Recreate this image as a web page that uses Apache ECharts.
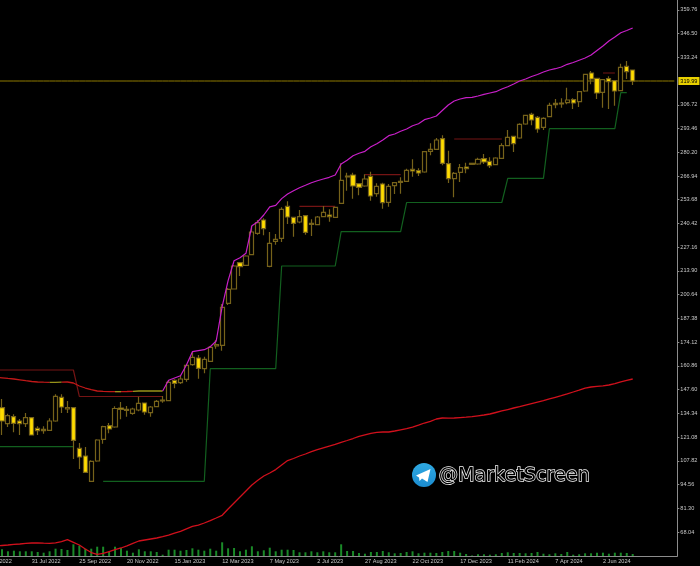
<!DOCTYPE html>
<html>
<head>
<meta charset="utf-8">
<style>html,body{margin:0;background:#000}#chart{width:700px;height:566px}</style>
<script src="https://cdn.jsdelivr.net/npm/echarts@6/dist/echarts.min.js"></script>
</head>
<body>
<div id="chart"></div>
<script>
// weekly bars: open, close, low, high
const candles = [
[137.50,130.07,122.25,142.36],[128.56,133.03,126.72,134.15],[132.47,128.78,123.76,133.81],[130.07,128.56,122.25,131.19],
[128.56,131.91,126.72,134.54],[131.91,122.25,122.25,131.91],[125.99,124.65,122.25,127.11],[124.65,125.43,122.98,127.11],
[124.87,130.07,124.48,131.58],[130.07,143.87,129.68,144.98],[143.31,137.89,134.54,144.98],[136.77,137.50,134.54,141.24],
[137.50,119.29,108.84,137.50],[114.82,109.96,103.26,117.78],[110.52,101.41,101.41,115.55],[96.39,107.56,96.16,108.12],
[107.73,119.46,107.33,119.85],[119.85,126.89,117.39,127.44],[127.44,125.60,123.20,128.95],[126.72,137.05,126.33,138.28],
[137.33,136.60,131.02,140.68],[136.05,136.60,132.47,138.45],[134.37,136.77,133.59,137.50],[136.21,139.96,135.49,143.64],
[140.12,135.10,133.59,140.12],[134.71,137.89,132.47,138.45],[138.06,141.07,137.72,141.80],[141.24,141.80,140.29,144.03],
[141.41,151.69,141.07,152.97],[152.80,151.13,148.34,153.36],[151.46,153.53,150.74,155.60],[153.36,161.18,152.02,161.91],
[161.52,165.65,160.96,168.78],[165.26,159.51,153.70,166.94],[159.28,164.54,156.71,165.99],[163.42,171.24,163.03,171.96],
[171.96,172.69,170.46,175.32],[172.36,193.58,169.34,195.43],[195.82,203.64,194.87,204.36],[203.80,216.65,203.64,217.21],
[218.50,216.26,211.07,218.50],[217.04,222.24,216.65,222.63],[222.97,235.64,222.63,239.00],[234.92,240.84,234.14,242.35],
[242.35,237.49,233.80,243.30],[216.48,229.33,215.93,235.64],[230.45,231.57,228.55,234.53],[232.13,248.33,230.06,249.44],
[250.00,244.02,240.11,252.79],[243.86,240.50,233.02,243.86],[241.23,244.19,240.50,247.93],[244.75,235.48,234.14,244.75],
[239.95,240.50,233.41,242.74],[239.72,244.02,239.39,244.58],[244.19,246.65,243.86,250.17],[245.14,244.19,241.40,248.33],
[243.86,249.44,243.47,249.78],[251.68,264.53,251.29,274.02],[266.93,266.37,258.71,268.77],[267.48,261.34,254.25,268.77],
[262.63,260.61,256.14,262.63],[261.34,265.25,260.95,267.88],[266.76,255.75,253.13,269.33],[257.04,261.17,255.36,262.85],
[262.46,252.01,248.66,263.18],[252.24,261.17,249.78,262.46],[261.51,263.18,256.87,263.57],[263.41,263.97,257.04,266.20],
[263.97,270.11,263.57,271.00],[270.67,269.72,266.54,276.25],[269.89,268.60,266.93,271.23],[269.16,280.50,268.77,280.89],
[280.72,281.84,278.49,285.19],[281.84,287.04,281.45,288.15],[287.76,274.02,272.90,289.66],[273.80,265.42,263.02,281.06],
[265.42,268.43,255.03,269.16],[268.99,271.56,263.57,273.63],[271.95,271.00,268.43,274.36],[274.02,273.46,273.46,274.02],
[273.63,276.25,273.24,277.15],[276.59,274.75,273.63,279.22],[275.14,272.68,271.40,277.37],[273.24,276.98,272.90,277.37],
[276.81,283.85,276.42,285.19],[283.85,288.54,283.52,292.62],[289.10,284.97,280.33,289.10],[288.15,295.81,287.76,296.36],
[295.97,300.83,295.58,301.17],[301.39,298.21,295.25,302.29],[299.72,293.18,291.11,300.44],[294.13,299.16,292.62,299.72],
[300.05,306.42,299.72,307.87],[306.75,307.54,304.74,309.94],[307.15,307.70,305.08,310.33],[307.87,309.38,306.98,316.25],
[309.55,307.70,304.35,310.33],[308.43,314.02,305.47,314.41],[314.41,323.74,314.02,324.07],[324.46,321.11,318.15,325.58],
[321.50,313.29,309.94,321.84],[313.68,320.72,305.08,321.11],[321.28,319.60,304.35,322.62],[320.16,314.41,306.20,320.16],
[314.57,327.65,314.41,329.66],[328.20,325.19,321.11,331.17],[326.14,319.99,317.76,326.14]
];

// upper envelope, first value is one bar before the first candle
const upperBand = [
154.37,154.20,153.86,153.53,153.08,152.58,152.13,151.85,151.74,151.69,151.69,151.74,151.85,151.30,149.62,148.50,147.55,146.83,146.60,146.49,
146.44,146.49,146.55,146.66,146.83,146.83,146.83,146.83,146.83,152.80,154.09,155.37,161.35,168.78,169.34,169.90,171.57,174.76,193.92,208.44,
219.61,221.29,223.75,239.16,241.40,245.14,249.67,250.56,254.30,256.87,258.72,260.39,261.73,263.18,264.30,265.25,266.20,267.48,273.63,275.70,
278.27,279.61,280.72,283.29,284.97,287.04,289.44,290.39,291.90,293.18,295.02,296.14,298.38,299.33,300.44,303.51,306.59,308.82,309.94,310.67,
310.89,311.61,312.56,313.29,314.02,315.52,316.81,318.32,319.99,321.11,322.51,323.62,325.02,326.14,326.86,327.81,329.32,330.33,331.61,332.84,
334.52,337.03,339.54,342.34,344.57,346.97,348.20,349.60
];
// stretches of upperBand by colour, as [first bar, last bar]
const upperRedRuns = [[-1, 8], [10, 19], [20, 22]];
const upperOliveRuns = [[8, 10], [19, 20], [22, 27]];
const upperMagentaRuns = [[27, 106]];

// long moving average, same start as upperBand
const movingAvg = [
60.25,60.52,60.80,61.14,61.36,61.70,61.92,61.92,61.81,61.75,62.03,62.65,63.76,62.31,60.80,58.57,56.61,55.61,56.11,57.17,
58.18,59.13,60.36,61.70,63.04,63.60,64.15,64.71,65.44,66.28,67.39,68.40,69.85,71.19,71.97,73.09,74.43,75.89,77.39,80.91,
84.26,87.62,90.97,94.32,96.94,99.35,101.02,102.92,105.49,107.95,109.12,110.52,111.64,112.92,114.09,115.10,116.10,117.05,118.12,119.18,
120.29,121.52,122.36,123.20,123.76,123.92,123.92,124.48,125.15,125.82,126.61,127.72,128.95,129.90,131.19,131.75,131.63,131.75,131.97,132.19,
132.47,132.97,133.42,133.98,134.82,135.66,136.49,137.33,138.06,138.90,139.73,140.57,141.41,142.36,143.31,144.26,145.26,146.27,147.27,148.39,
149.06,149.45,149.73,150.18,150.96,151.97,152.75,153.53
];

// step lines as [first bar, last bar, price]
const resistanceSteps = [[-1, 12, 158.56], [13, 27, 143.76], [50, 56, 250.00], [61, 67, 267.65], [76, 84, 287.59], [101, 103, 324.46]];
const supportSteps = [[-1, 12, 115.71], [17, 34, 96.39], [35, 46, 159.28], [47, 56, 216.65], [57, 67, 235.81], [68, 84, 252.12], [85, 91, 265.64], [92, 103, 293.35], [104, 105, 313.46]];

// relative tick volume
const volumes = [
6.7,4.7,5.3,4.7,4.7,4.7,4,3.3,4.7,7.3,7,6,11.7,10.3,7.3,7.3,9.3,9.3,4,9.3,
8,5.3,3.3,6.7,4.7,4.7,4,1.3,6.3,6.3,5.3,6,7.7,6.3,5.3,7.3,5.3,13.7,7.7,8,
4.7,6.3,9.7,4.7,5.7,8.3,4.7,6.3,6.3,6,3.7,3.7,4.7,3.7,4.7,3.7,3.7,11.7,5,5,
3,2.3,4,4,5,3.7,2.7,3,4,4.7,2.7,3.3,3.3,3,4,5,5,3.3,2,0.5,
1.7,1.7,1.3,1.7,3,3.7,3,3,2.7,3,4,2.3,1.7,2.7,2,4,1.3,1.7,2.7,2.7,
3.3,3.3,2.3,3.3,3.3,3,2
];

const lastPrice = 319.99;
const priceTicks = [359.76,346.50,333.24,306.72,293.46,280.20,266.94,253.68,240.42,227.16,213.90,200.64,187.38,174.12,160.86,147.60,134.34,121.08,107.82,94.56,81.30,68.04];
const dateTicks = ['5 Jun 2022','31 Jul 2022','25 Sep 2022','20 Nov 2022','15 Jan 2023','12 Mar 2023','7 May 2023','2 Jul 2023','27 Aug 2023','22 Oct 2023','17 Dec 2023','11 Feb 2024','7 Apr 2024','2 Jun 2024'];

// 3 bars off screen to the left, 7 empty bars on the right
const LEAD = 3, TAIL = 7, BAR = 5.95;
const total = LEAD + candles.length + TAIL;
const categories = [];
for (let i = 0; i < total; i++) categories.push(i);

function blank() {
    return new Array(total).fill(null);
}
function fromBand(values, runs) {
    const out = blank();
    runs.forEach(function(run) {
        for (let i = run[0]; i <= run[1]; i++) out[i + LEAD] = values[i + 1];
    });
    return out;
}
function fromSteps(steps) {
    const out = blank();
    steps.forEach(function(s) {
        for (let i = s[0]; i <= s[1]; i++) out[i + LEAD] = s[2];
    });
    return out;
}
function pad(values, before) {
    const out = blank();
    values.forEach(function(v, i) { out[i + before] = v; });
    return out;
}
function lineSeries(data, color, z, width) {
    return {
        type: 'line', data: data, symbol: 'none', silent: true, connectNulls: false, z: z,
        lineStyle: { color: color, width: width }
    };
}

const isDateTick = function(i) { return i % 8 === 0 && i / 8 < dateTicks.length; };
const axisGrey = '#8c8c8c';
const OLIVE = '#76621a', YELLOW = '#ffdc00';

// 当前价线和右侧价格标签
const priceLine = lineSeries(new Array(total).fill(lastPrice), '#8f7a00', 2, 1);
priceLine.endLabel = {
    show: true, distance: 4, formatter: lastPrice.toFixed(2), color: '#000', fontSize: 5.6,
    backgroundColor: '#e8d000', padding: [1, 2], fontFamily: 'Liberation Sans'
};

const chart = echarts.init(document.getElementById('chart'));
chart.setOption({
    animation: false,
    backgroundColor: '#000',
    textStyle: { fontFamily: 'Liberation Sans' },
    grid: { left: -0.975 - LEAD * BAR, top: 0, width: total * BAR, height: 556, outerBoundsMode: 'none' },
    xAxis: {
        type: 'category', data: categories, boundaryGap: true,
        axisLine: { onZero: false, lineStyle: { color: axisGrey } },
        axisTick: { interval: function(i) { return isDateTick(i); }, alignWithLabel: true, length: 2, lineStyle: { color: axisGrey } },
        axisLabel: {
            interval: function(i) { return isDateTick(i); }, hideOverlap: false,
            formatter: function(v, i) { return dateTicks[i / 8] || ''; },
            align: 'left', margin: 2, color: '#c8c8c8', fontSize: 5.6, fontFamily: 'Liberation Sans'
        },
        splitLine: { show: false }
    },
    yAxis: [
        {
            type: 'value', position: 'right', min: 54.66, max: 365.24, scale: true,
            axisLine: { show: true, onZero: false, lineStyle: { color: axisGrey } },
            axisTick: { show: true, length: 2, customValues: priceTicks, lineStyle: { color: axisGrey } },
            axisLabel: {
                customValues: priceTicks, margin: 3, color: '#c8c8c8', fontSize: 5.6, fontFamily: 'Liberation Sans',
                showMinLabel: true, showMaxLabel: true,
                formatter: function(v) { return v.toFixed(2); }
            },
            splitLine: { show: false }
        },
        { type: 'value', min: 0, max: 556, show: false, splitLine: { show: false } }
    ],
    series: [
        { type: 'bar', yAxisIndex: 1, data: pad(volumes, LEAD), barWidth: 2, silent: true, z: 1, itemStyle: { color: '#1a8a28' } },
        priceLine,
        lineSeries(fromSteps(resistanceSteps), '#751414', 2, 1.2),
        lineSeries(fromSteps(supportSteps), '#12601f', 2, 1.2),
        lineSeries(pad(movingAvg, LEAD - 1), '#d0101c', 3, 1.3),
        {
            type: 'candlestick', data: pad(candles, LEAD).map(function(c) { return c || '-'; }),
            barWidth: 4.6, silent: true, z: 4,
            itemStyle: { color: '#000', color0: YELLOW, borderColor: OLIVE, borderColor0: OLIVE, borderWidth: 1.2 }
        },
        lineSeries(fromBand(upperBand, upperRedRuns), '#c01818', 5, 1.3),
        lineSeries(fromBand(upperBand, upperOliveRuns), '#98931a', 5, 1.3),
        lineSeries(fromBand(upperBand, upperMagentaRuns), '#c81fc8', 5, 1.2)
    ],
    // watermark
    graphic: [
        {
            type: 'circle', shape: { cx: 424, cy: 475, r: 12 }, silent: true,
            style: { fill: new echarts.graphic.LinearGradient(0, 0, 0, 1, [{ offset: 0, color: '#2fa9e2' }, { offset: 1, color: '#1b8cd0' }]) }
        },
        {
            type: 'polygon', silent: true,
            shape: { points: [[416, 475.5], [430.5, 469], [427.5, 482], [422, 478.5], [419.5, 481], [419, 477.5]] },
            style: { fill: '#fff' }
        },
        {
            type: 'text', left: 438, top: 466, silent: true,
            style: { text: '@MarketScreen', fill: '#000', stroke: '#f4f4f4', lineWidth: 1.4, font: '19.2px "DejaVu Sans"' }
        }
    ]
});
</script>
</body>
</html>
